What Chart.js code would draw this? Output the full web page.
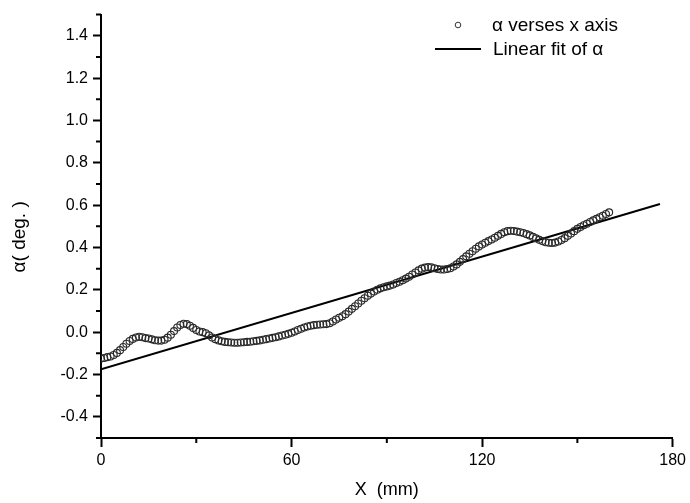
<!DOCTYPE html>
<html>
<head>
<meta charset="utf-8">
<script src="https://cdn.jsdelivr.net/npm/chart.js@4.4.1/dist/chart.umd.min.js"></script>
<style>
  html, body { margin: 0; padding: 0; background: #fff; }
  #wrap { width: 690px; height: 503px; }
</style>
</head>
<body>
<div id="wrap"><canvas id="alphaChart" width="690" height="503"></canvas></div>
<script>
// measured alpha, one point per mm (0..160)
const alphaY = [
  -0.125, -0.122, -0.118, -0.115, -0.108, -0.098, -0.085, -0.070, -0.055, -0.042,
  -0.032, -0.025, -0.022, -0.024, -0.028, -0.030, -0.034, -0.038, -0.040, -0.040,
  -0.036, -0.026, -0.012, 0.005, 0.022, 0.034, 0.040, 0.038, 0.030, 0.020,
  0.010, 0.003, 0.000, -0.005, -0.015, -0.025, -0.033, -0.039, -0.043, -0.046,
  -0.048, -0.049, -0.050, -0.050, -0.049, -0.048, -0.046, -0.045, -0.043, -0.041,
  -0.039, -0.036, -0.033, -0.030, -0.027, -0.024, -0.020, -0.016, -0.012, -0.008,
  -0.003, 0.003, 0.010, 0.016, 0.022, 0.027, 0.030, 0.033, 0.035, 0.036,
  0.037, 0.038, 0.042, 0.050, 0.060, 0.068, 0.075, 0.085, 0.097, 0.110,
  0.122, 0.135, 0.148, 0.160, 0.172, 0.182, 0.192, 0.200, 0.207, 0.212,
  0.216, 0.220, 0.225, 0.232, 0.238, 0.245, 0.253, 0.262, 0.272, 0.282,
  0.292, 0.300, 0.305, 0.308, 0.306, 0.302, 0.298, 0.296, 0.296, 0.298,
  0.302, 0.310, 0.320, 0.332, 0.345, 0.358, 0.370, 0.382, 0.394, 0.405,
  0.414, 0.422, 0.430, 0.438, 0.446, 0.455, 0.464, 0.472, 0.477, 0.479,
  0.478, 0.475, 0.472, 0.468, 0.463, 0.457, 0.450, 0.443, 0.436, 0.430,
  0.425, 0.422, 0.421, 0.423, 0.428, 0.435, 0.444, 0.455, 0.466, 0.477,
  0.488, 0.497, 0.505, 0.512, 0.520, 0.528, 0.535, 0.543, 0.550, 0.558,
  0.566
];
const alphaX = alphaY.map((v, i) => i);

// linear fit end points
const fitX = [0, 176];
const fitY = [-0.175, 0.605];

const xMajorTicks = [0, 60, 120, 180];
const xMinorTicks = [30, 90, 150];
const yMajorTicks = [-0.4, -0.2, 0.0, 0.2, 0.4, 0.6, 0.8, 1.0, 1.2, 1.4];
const yMinorTicks = [-0.5, -0.3, -0.1, 0.1, 0.3, 0.5, 0.7, 0.9, 1.1, 1.3, 1.5];

const seriesLabels = ['\u03B1 verses x axis', 'Linear fit of \u03B1'];

const FONT = "'Liberation Sans', Arial, sans-serif";

// minor tick marks on both axes
const minorTicks = {
  id: 'minorTicks',
  afterDraw(chart) {
    const { ctx, chartArea, scales } = chart;
    ctx.save();
    ctx.strokeStyle = '#000';
    ctx.lineWidth = 2;
    ctx.beginPath();
    xMinorTicks.forEach(v => {
      const px = scales.x.getPixelForValue(v);
      ctx.moveTo(px, chartArea.bottom);
      ctx.lineTo(px, chartArea.bottom + 5);
    });
    yMinorTicks.forEach(v => {
      const py = scales.y.getPixelForValue(v);
      ctx.moveTo(chartArea.left, py);
      ctx.lineTo(chartArea.left - 5, py);
    });
    ctx.stroke();
    ctx.restore();
  }
};

// legend box in the top right corner
const cornerLegend = {
  id: 'cornerLegend',
  afterDraw(chart) {
    const ctx = chart.ctx;
    const ds = chart.data.datasets;
    ctx.save();
    ctx.font = '19px ' + FONT;
    ctx.fillStyle = '#000';
    ctx.textBaseline = 'middle';
    ctx.textAlign = 'left';

    ctx.beginPath();
    ctx.arc(458, 25, 2.8, 0, Math.PI * 2);
    ctx.strokeStyle = '#333';
    ctx.lineWidth = 1;
    ctx.stroke();
    ctx.fillText(ds[0].label, 492, 26);

    ctx.beginPath();
    ctx.moveTo(435, 49);
    ctx.lineTo(481, 49);
    ctx.strokeStyle = '#000';
    ctx.lineWidth = 2;
    ctx.stroke();
    ctx.fillText(ds[1].label, 493, 50);
    ctx.restore();
  }
};

const chart = new Chart(document.getElementById('alphaChart'), {
  type: 'scatter',
  data: {
    datasets: [
      {
        label: seriesLabels[0],
        data: alphaX.map((x, i) => ({ x: x, y: alphaY[i] })),
        pointRadius: 3.5,
        pointBorderWidth: 1.1,
        pointBorderColor: '#2a2a2a',
        pointBackgroundColor: 'rgba(255,255,255,0)',
        showLine: false
      },
      {
        label: seriesLabels[1],
        data: fitX.map((x, i) => ({ x: x, y: fitY[i] })),
        showLine: true,
        borderColor: '#000',
        borderWidth: 2,
        pointRadius: 0
      }
    ]
  },
  options: {
    responsive: false,
    animation: false,
    layout: { padding: { top: 10, right: 15, bottom: 0, left: 0 } },
    plugins: {
      legend: { display: false },
      tooltip: { enabled: false }
    },
    scales: {
      x: {
        type: 'linear',
        min: 0,
        max: 180,
        afterBuildTicks: axis => { axis.ticks = xMajorTicks.map(v => ({ value: v })); },
        afterFit: axis => { axis.height = 65; },
        grid: { drawOnChartArea: false, drawTicks: true, tickLength: 9, tickWidth: 2, tickColor: '#000' },
        border: { display: true, color: '#000', width: 2 },
        ticks: {
          color: '#000',
          font: { family: FONT, size: 16 },
          padding: 4,
          maxRotation: 0,
          autoSkip: false,
          callback: v => String(v)
        },
        title: {
          display: true,
          text: 'X  (mm)',
          color: '#000',
          font: { family: FONT, size: 18 },
          padding: { top: 0, bottom: 2 }
        }
      },
      y: {
        type: 'linear',
        min: -0.5,
        max: 1.5,
        afterBuildTicks: axis => { axis.ticks = yMajorTicks.map(v => ({ value: v })); },
        afterFit: axis => { axis.width = 101; },
        grid: { drawOnChartArea: false, drawTicks: true, tickLength: 8, tickWidth: 2, tickColor: '#000' },
        border: { display: true, color: '#000', width: 2 },
        ticks: {
          color: '#000',
          font: { family: FONT, size: 16 },
          padding: 5,
          autoSkip: false,
          callback: v => v.toFixed(1)
        },
        title: {
          display: true,
          text: '\u03B1( deg. )    ',
          color: '#000',
          font: { family: FONT, size: 19 },
          padding: { top: 8, bottom: 0 }
        }
      }
    }
  },
  plugins: [minorTicks, cornerLegend]
});
</script>
</body>
</html>
